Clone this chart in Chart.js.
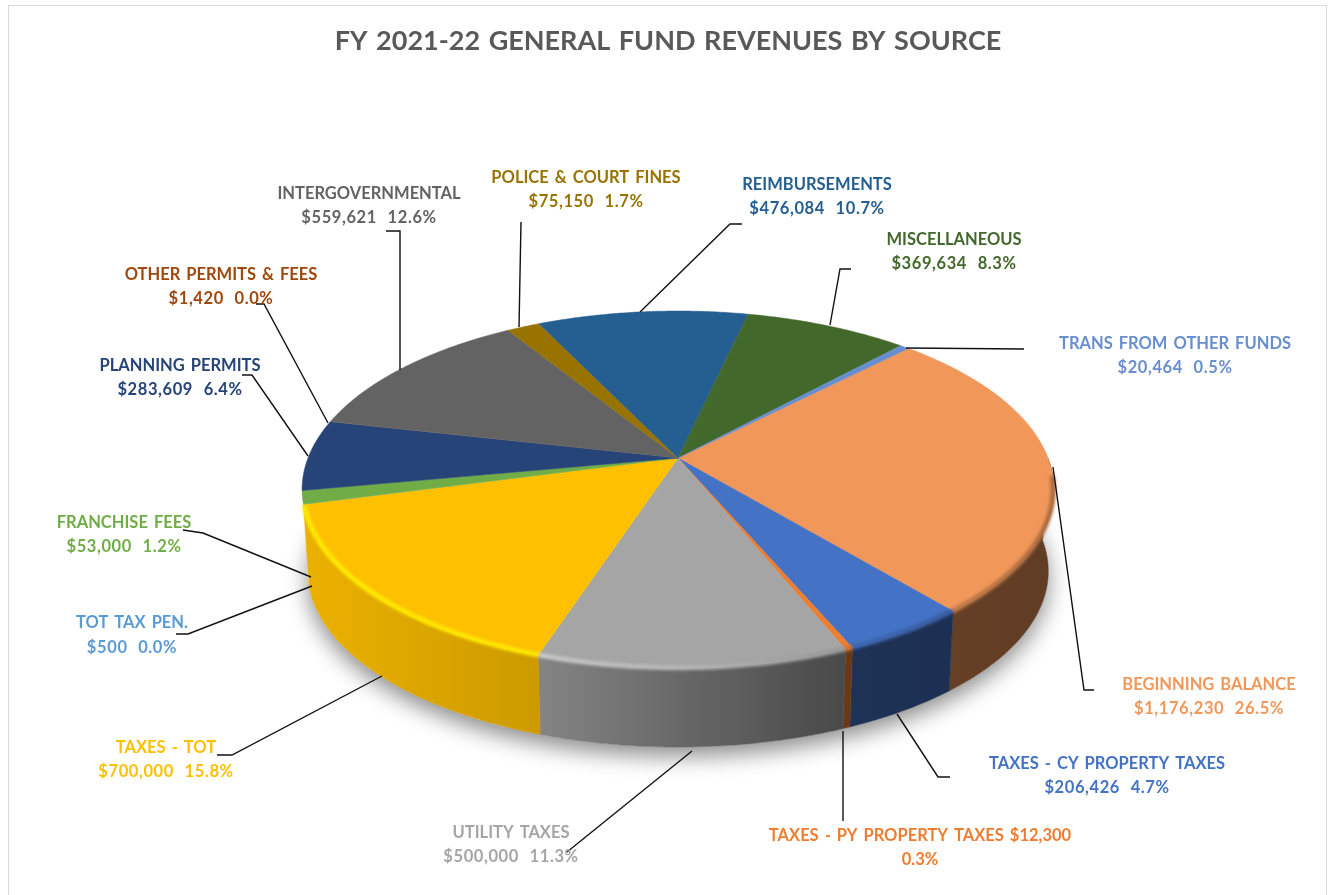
<!DOCTYPE html>
<html><head><meta charset="utf-8">
<style>html,body{margin:0;padding:0;background:#fff;overflow:hidden}
#frame{position:absolute;left:8px;top:5px;width:1319px;height:900px;border:1.5px solid #d9d9d9;box-sizing:border-box}
canvas{position:absolute;left:0;top:0}</style>
<script src="https://cdn.jsdelivr.net/npm/chart.js@4"></script>
</head><body><div id="frame"></div><canvas id="c" width="1332" height="895"></canvas>
<script>
const categories=["BEGINNING BALANCE","TAXES - CY PROPERTY TAXES","TAXES - PY PROPERTY TAXES","UTILITY TAXES","TAXES - TOT","TOT TAX PEN.","FRANCHISE FEES","PLANNING PERMITS","OTHER PERMITS & FEES","INTERGOVERNMENTAL","POLICE & COURT FINES","REIMBURSEMENTS","MISCELLANEOUS","TRANS FROM OTHER FUNDS"];
const amounts=[1176230,206426,12300,500000,700000,500,53000,283609,1420,559621,75150,476084,369634,20464];
const percents=["26.5%","4.7%","0.3%","11.3%","15.8%","0.0%","1.2%","6.4%","0.0%","12.6%","1.7%","10.7%","8.3%","0.5%"];
const colors=["#F1975A","#4472C4","#ED7D31","#A5A5A5","#FFC000","#5B9BD5","#70AD47","#264478","#9E480E","#636363","#997300","#255E91","#43682B","#698ED0"];
const titleText="FY 2021-22 GENERAL FUND REVENUES BY SOURCE";
// label centres: [x, first line y, second line y]
const labelPos=[[1209,685,709],[1107,764,788],[920,836,860],[511,833,857],[166,748,772],[132,623,648],[124,523,547],[180,366,390],[221,275,299],[369,194,218],[586,178,202],[817,185,209],[954,240,264],[1175,344,368]];
const leaders=[[[1094,690],[1084,690],[1053,467]],[[950,777],[938,777],[897,714]],[[843,821],[843,731]],[[567,852],[692,751]],[[217,755],[232,755],[382,676]],[[176,634],[188,634],[312,586]],[[183,530],[203,533],[311,577]],[[242,375],[252,375],[308,456]],[[256,304],[264,304],[328,423]],[[386,231],[400,231],[400,370]],[[521,222],[519,327]],[[742,224],[730,224],[640,312]],[[851,269],[840,269],[830,325]],[[1024,349],[906,348]]];
const persp={hx:678,hy:458,rx:370,ry:173,k:0.177,depth:82,shrink:0.985};
const wallShade=[[310,.92],[541,.80],[690,.62],[845,.44],[1050,.40]];
const rimShade=[[300,1.22],[541,1.2],[700,1.08],[845,.9],[1052,.7]];
const fam='Lato, Carlito, sans-serif';

function proj(a,r,s,dy){const x=Math.cos(a)*r,y=Math.sin(a)*r,w=1-persp.k*y;
  return [persp.hx+persp.rx*x/w*s, persp.hy+dy+persp.ry*y/w*s];}
function lookup(tbl,x){if(x<=tbl[0][0])return tbl[0][1];
  for(let i=1;i<tbl.length;i++)if(x<=tbl[i][0]){const t=(x-tbl[i-1][0])/(tbl[i][0]-tbl[i-1][0]);return tbl[i-1][1]+t*(tbl[i][1]-tbl[i-1][1]);}
  return tbl[tbl.length-1][1];}
function shade(hex,f){const n=parseInt(hex.slice(1),16);const c=[n>>16,(n>>8)&255,n&255].map(v=>Math.min(255,Math.round(v*f)));return `rgb(${c[0]},${c[1]},${c[2]})`;}
function arcPts(a0,a1,r,s,dy){const n=Math.max(2,Math.ceil((a1-a0)/0.01));const p=[];for(let i=0;i<=n;i++)p.push(proj(a0+(a1-a0)*i/n,r,s,dy));return p;}
function trace(ctx,p,move=true){p.forEach((q,i)=>{(i===0&&move)?ctx.moveTo(q[0],q[1]):ctx.lineTo(q[0],q[1]);});}
function faces(a,right){const c=Math.cos(a),s=Math.sin(a);return c<0?s>=0.26:s>=right;}
function frontRange(el,right=0){let a0=null,a1=null;const n=Math.ceil((el.endAngle-el.startAngle)/0.005)+1;
  for(let i=0;i<=n;i++){const a=el.startAngle+(el.endAngle-el.startAngle)*i/n;if(faces(a,right)){if(a0===null)a0=a;a1=a;}}
  return a0===null||a1-a0<1e-6?null:[a0,a1];}
function bandGradient(ctx,hex,tbl){const g=ctx.createLinearGradient(300,0,1060,0);
  for(let x=300;x<=1060;x+=40)g.addColorStop((x-300)/760,shade(hex,lookup(tbl,x)));return g;}

const pie3d={id:'pie3d',
 beforeDraw(chart){chart.ctx.wordSpacing='2px';},
 beforeDatasetsDraw(chart){
  const ctx=chart.ctx,arcs=chart.getDatasetMeta(0).data;
  const full=arcPts(0,Math.PI*2,1,persp.shrink,persp.depth);
  ctx.save();ctx.shadowColor='rgba(0,0,0,.45)';ctx.shadowBlur=22;ctx.shadowOffsetY=9;ctx.fillStyle='#fff';
  ctx.beginPath();trace(ctx,full);ctx.closePath();ctx.fill();ctx.restore();
  arcs.forEach((el,i)=>{
    const r=frontRange(el);if(!r)return;
    const g=bandGradient(ctx,colors[i],wallShade);
    const top=arcPts(r[0],r[1],1,1,0),bot=arcPts(r[0],r[1],1,persp.shrink,persp.depth).reverse();
    ctx.beginPath();trace(ctx,top);trace(ctx,bot,false);ctx.closePath();
    ctx.fillStyle=g;ctx.strokeStyle=g;ctx.lineWidth=.5;ctx.fill();ctx.stroke();
  });
  arcs.forEach((el,i)=>{
    const p=arcPts(el.startAngle,el.endAngle,1,1,0);
    ctx.beginPath();ctx.moveTo(persp.hx,persp.hy);trace(ctx,p,false);ctx.closePath();
    ctx.fillStyle=colors[i];ctx.fill();
    if(el.endAngle-el.startAngle>0.01){ctx.strokeStyle=colors[i];ctx.lineWidth=.5;ctx.stroke();}
  });
  // bevel drawn sharp on a scratch canvas, then blurred as one piece
  const off=document.createElement('canvas');off.width=chart.width;off.height=chart.height;
  const o=off.getContext('2d');o.lineCap='butt';o.lineJoin='round';o.lineWidth=5;
  arcs.forEach((el,i)=>{
    const r=frontRange(el,0.1);if(!r)return;
    o.strokeStyle=bandGradient(o,colors[i],rimShade);
    o.beginPath();trace(o,arcPts(r[0],r[1],.998,1,0));o.stroke();
  });
  ctx.save();ctx.filter='blur(1.4px)';ctx.drawImage(off,0,0);ctx.restore();
  return false;
 },
 afterDraw(chart){
  const ctx=chart.ctx;ctx.save();
  ctx.strokeStyle='#111';ctx.lineWidth=1.4;
  leaders.forEach(l=>{ctx.beginPath();trace(ctx,l);ctx.stroke();});
  ctx.font='bold 16.5px '+fam;ctx.textAlign='center';ctx.textBaseline='middle';
  categories.forEach((name,i)=>{
    const m=labelPos[i];const money='$'+amounts[i].toLocaleString('en-US');
    ctx.fillStyle=colors[i];
    ctx.wordSpacing='2px';ctx.letterSpacing='0px';
    if(i===2){ctx.fillText(name+' '+money,m[0],m[1]);ctx.fillText(percents[i],m[0],m[2]);}
    else{ctx.fillText(name,m[0],m[1]);
      ctx.wordSpacing='6px';ctx.letterSpacing='0.6px';
      ctx.fillText(money+' '+percents[i],m[0],m[2]);}
  });
  ctx.restore();
 }};

new Chart(document.getElementById('c'),{type:'pie',
 data:{labels:categories,datasets:[{data:amounts,backgroundColor:colors,borderWidth:0}]},
 plugins:[pie3d],
 options:{responsive:false,animation:false,rotation:44.5,
  layout:{padding:{top:25,bottom:40,left:202,right:198}},
  plugins:{legend:{display:false},tooltip:{enabled:false},
   title:{display:true,text:titleText,color:'#595959',font:{family:fam,size:27,weight:'bold'},padding:{top:0,bottom:10}}}}});
</script></body></html>
